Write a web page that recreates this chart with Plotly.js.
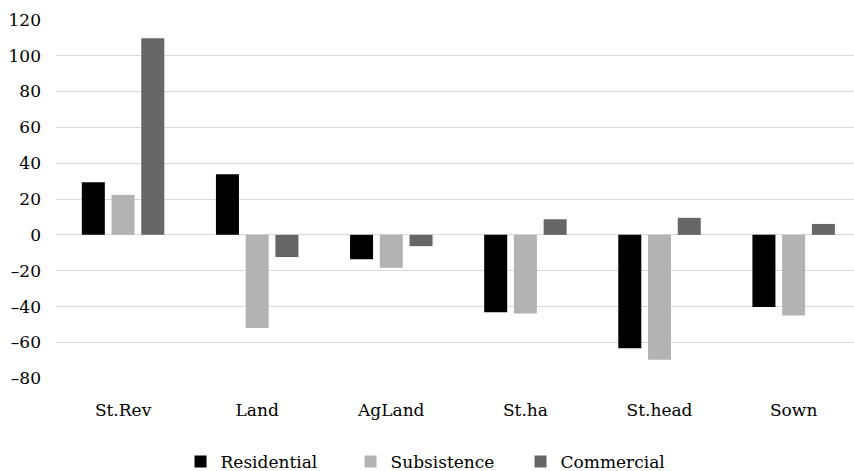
<!DOCTYPE html>
<html>
<head>
<meta charset="utf-8">
<script src="https://cdn.plot.ly/plotly-3.0.1.min.js"></script>
<style>
html,body{margin:0;padding:0;overflow:hidden;background:#fff;}
#chart{width:854px;height:471px;}
</style>
</head>
<body>
<div id="chart"></div>
<script>
const categories = ["St.Rev", "Land", "AgLand", "St.ha", "St.head", "Sown"];
const residential = [29.4, 33.8, -13.6, -43.1, -63.2, -40.3];
const subsistence = [22.3, -52.0, -18.4, -43.9, -69.7, -45.0];
const commercial = [109.7, -12.4, -6.3, 8.7, 9.5, 6.1];
const seriesNames = ["Residential", "Subsistence", "Commercial"];
const yTicks = [-80, -60, -40, -20, 0, 20, 40, 60, 80, 100, 120];

const colors = ["#000000", "#b3b3b3", "#666666"];
const series = [residential, subsistence, commercial];
const font = "DejaVu Serif";
const fs = 17;

const traces = series.map((vals, i) => ({
  type: "bar",
  name: seriesNames[i],
  x: categories,
  y: vals,
  marker: {color: colors[i], line: {width: 0}},
  hoverinfo: "x+y+name"
}));

const layout = {
  width: 854,
  height: 471,
  margin: {l: 56, r: 0, t: 19, b: 92, autoexpand: false},
  paper_bgcolor: "#ffffff",
  plot_bgcolor: "#ffffff",
  font: {family: font, size: fs, color: "#000000"},
  barmode: "group",
  bargap: 0.335,
  bargroupgap: 0.226,
  showlegend: true,
  legend: {
    orientation: "h",
    xref: "container",
    yref: "paper",
    x: 0.51,
    xanchor: "center",
    y: -0.2306,
    yanchor: "middle",
    entrywidth: 125,
    font: {family: font, size: fs, color: "#000000"},
    traceorder: "normal"
  },
  xaxis: {
    type: "category",
    range: [-0.5, 5.45],
    showgrid: false,
    zeroline: false,
    showline: false,
    ticks: "",
    tickangle: 0,
    ticklabelstandoff: 19,
    automargin: false,
    tickfont: {family: font, size: fs, color: "#000000"}
  },
  yaxis: {
    range: [-80.4, 120.4],
    tickvals: yTicks,
    ticktext: yTicks.map(v => v < 0 ? "\u2013" + Math.abs(v) : String(v)),
    showgrid: true,
    gridcolor: "#d9d9d9",
    gridwidth: 1,
    zeroline: true,
    zerolinecolor: "#d9d9d9",
    zerolinewidth: 1,
    showline: false,
    ticks: "",
    ticklabelstandoff: 14,
    automargin: false,
    tickfont: {family: font, size: fs, color: "#000000"}
  }
};

Plotly.newPlot("chart", traces, layout, {displayModeBar: false, staticPlot: true});
</script>
</body>
</html>
